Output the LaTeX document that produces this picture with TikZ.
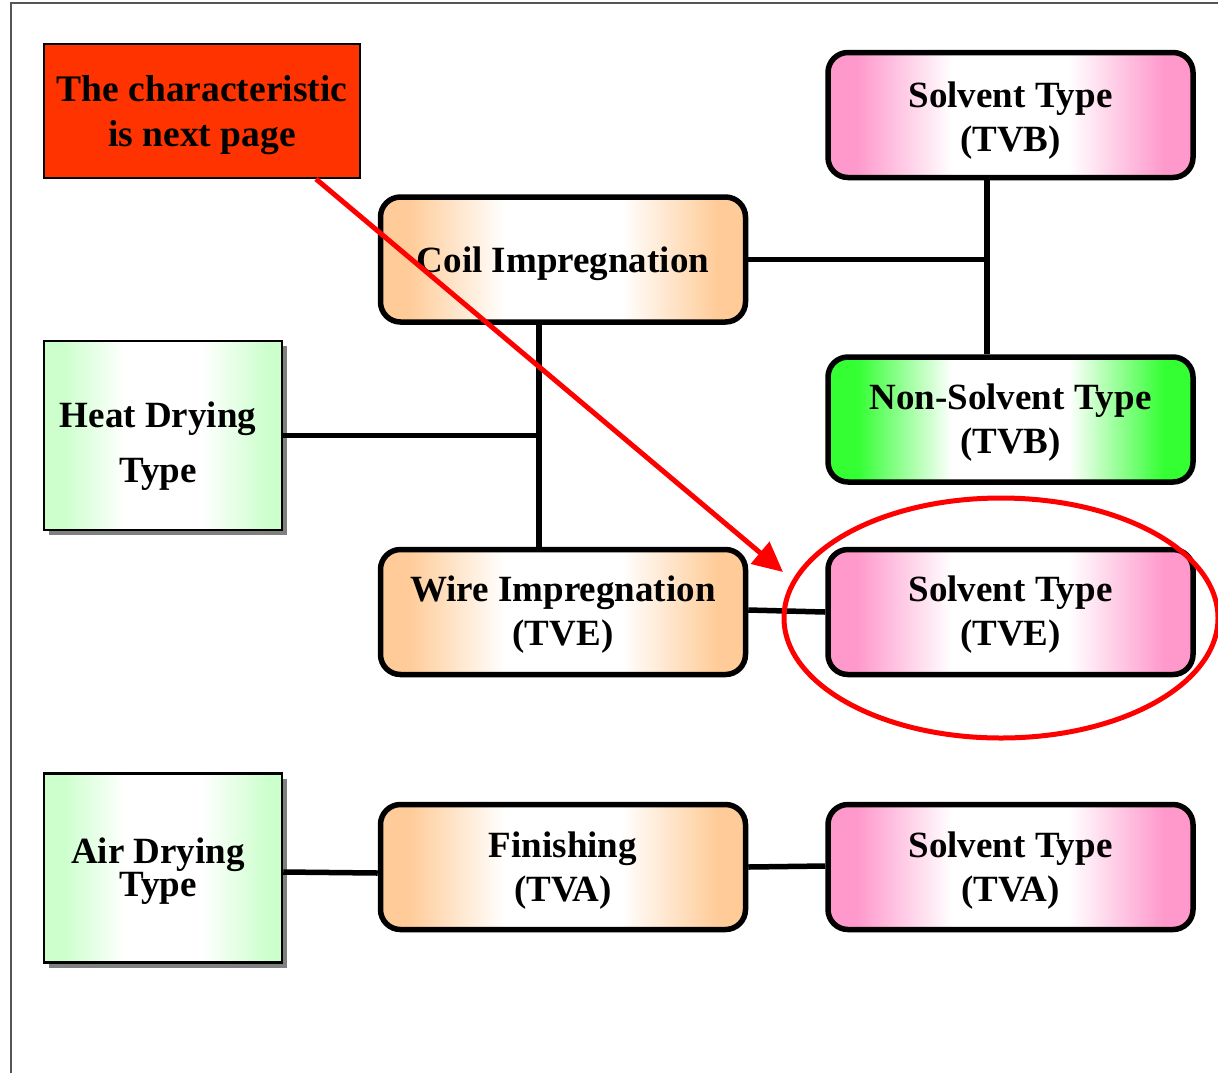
\documentclass[tikz,border=0pt]{standalone}
\usepackage{fontspec}
\setmainfont{Liberation Serif}
\usetikzlibrary{shapes.geometric,shadows,arrows.meta}
\definecolor{oc}{HTML}{FFCC99}
\definecolor{pc}{HTML}{FF99CC}
\definecolor{gc}{HTML}{33FF33}
\definecolor{lgc}{HTML}{CCFFCC}
\definecolor{notered}{HTML}{FF3300}
\definecolor{framegray}{HTML}{555555}
\pgfdeclarehorizontalshading{orangeband}{100bp}{color(0bp)=(oc); color(29bp)=(oc); color(42bp)=(white); color(58bp)=(white); color(71bp)=(oc); color(100bp)=(oc)}
\pgfdeclarehorizontalshading{pinkband}{100bp}{color(0bp)=(pc); color(29bp)=(pc); color(42bp)=(white); color(58bp)=(white); color(71bp)=(pc); color(100bp)=(pc)}
\pgfdeclarehorizontalshading{greenband}{100bp}{color(0bp)=(gc); color(29bp)=(gc); color(42bp)=(white); color(58bp)=(white); color(71bp)=(gc); color(100bp)=(gc)}
\pgfdeclarehorizontalshading{lgreenband}{100bp}{color(0bp)=(lgc); color(29bp)=(lgc); color(42bp)=(white); color(58bp)=(white); color(72bp)=(lgc); color(100bp)=(lgc)}
% text block lowered by a few points inside its box, keeping its reported size
\newcommand\lowtext[2][-5pt]{\raisebox{#1}[\height][\depth]{\begin{tabular}{@{}c@{}}#2\end{tabular}}}
\tikzset{
  txt/.style={font=\fontsize{37}{44}\selectfont\bfseries, text=black},
  rbox/.style={txt, draw=black, line width=5.5pt, rounded corners=20pt, minimum width=365pt, minimum height=125pt, inner sep=0pt, shade, shading angle=0},
  sbox/.style={txt, draw=black, line width=2.5pt, minimum width=238pt, minimum height=189pt, inner sep=0pt, shade, shading=lgreenband, shading angle=0,
    drop shadow={shadow xshift=5pt, shadow yshift=-5pt, fill=gray, opacity=1}},
  obox/.style={rbox, shading=orangeband},
  pbox/.style={rbox, shading=pinkband},
  gbox/.style={rbox, shading=greenband},
  conn/.style={draw=black, line width=5.5pt},
  redline/.style={draw=red, line width=5pt},
}
\begin{document}
\begin{tikzpicture}[x=1pt, y=-1pt]
\useasboundingbox (0,0) rectangle (1218,1072);
% frame
\draw[framegray, line width=2pt] (11,1080) -- (11,3) -- (1230,3);

% note box
\node[txt, draw=black, line width=2pt, fill=notered, minimum width=316pt, minimum height=134pt, inner sep=0pt,
  font=\fontsize{37.5}{45}\selectfont\bfseries] (note) at (202,111) {\lowtext[-4pt]{The characteristic\\is next page}};

% nodes
\node[pbox] (s1) at (1010.5,115) {\lowtext[-6pt]{Solvent Type\\(TVB)}};
\node[obox] (coil) at (563,259.5) {\lowtext[-4pt]{Coil Impregnation}};
\node[sbox, font=\fontsize{37}{55}\selectfont\bfseries] (heat) at (163,435.5) {\lowtext[-8pt]{Heat Drying\\Type}\hspace*{10pt}};
\node[gbox] (nons) at (1010.5,419.5) {\lowtext[-3pt]{Non-Solvent Type\\(TVB)}};
\node[obox] (wire) at (563,612) {\lowtext[-3pt]{Wire Impregnation\\(TVE)}};
\node[pbox] (s2) at (1010.5,612) {\lowtext[-3pt]{Solvent Type\\(TVE)}};
\node[sbox, font=\fontsize{37}{31}\selectfont\bfseries] (air) at (163,868) {\lowtext[-4pt]{Air Drying\\Type}\hspace*{10pt}};
\node[obox] (fin) at (563,867) {\lowtext[-4pt]{Finishing\\(TVA)}};
\node[pbox] (s3) at (1010.5,867) {\lowtext[-4pt]{Solvent Type\\(TVA)}};

% junctions
\coordinate (j1) at (987,259.5);
\coordinate (j2) at (539,435.5);

% connectors
\draw[conn] (coil.east) -- (j1);
\draw[conn] (j1 |- s1.south) -- (j1 |- nons.north);
\draw[conn] (j2 |- coil.south) -- (j2 |- wire.north);
\draw[conn] (heat.east) -- (j2);
\draw[conn] ([yshift=2pt]wire.east) -- (s2.west);
\draw[conn] ([yshift=-4pt]air.east) -- ([yshift=-6pt]fin.west);
\draw[conn] (fin.east) -- ([yshift=1pt]s3.west);

% red ellipse
\node[ellipse, draw=red, line width=5pt, minimum width=434pt, minimum height=240pt, inner sep=0pt] (oval) at (1001,618) {};

% red arrow
\coordinate (tip) at (783,572);
\draw[redline, -{Triangle[length=30pt,width=28pt]}] ([xshift=-45pt]note.south east) -- (tip);
\end{tikzpicture}
\end{document}
